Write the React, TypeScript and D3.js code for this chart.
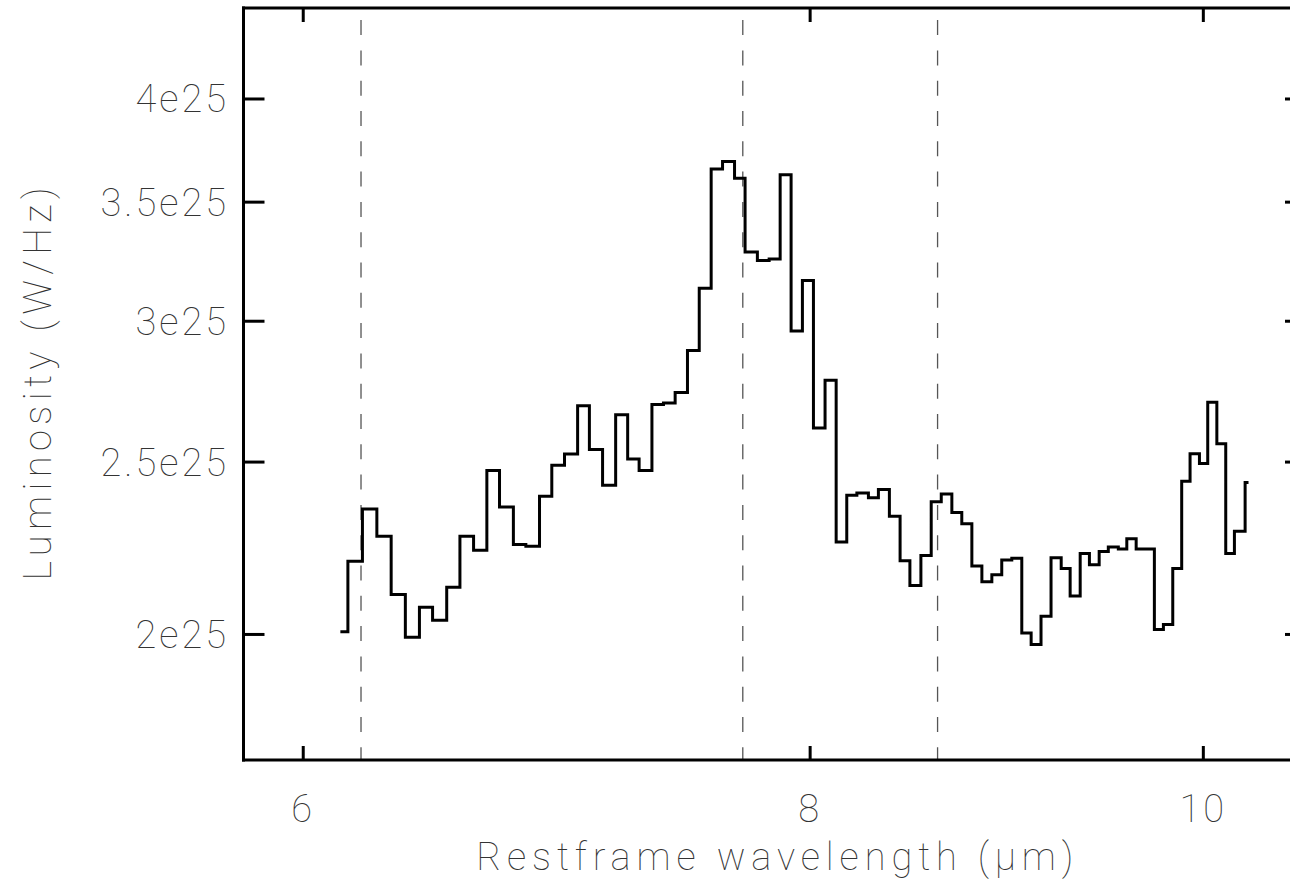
import React from "react";
import * as d3 from "d3";

// Bin edges (restframe wavelength, µm) where the histogram level changes; last entry closes the final bin
const binEdges = [
  6.133, 6.154, 6.205, 6.256, 6.307, 6.358, 6.409, 6.457, 6.509, 6.558,
  6.609, 6.659, 6.707, 6.76, 6.808, 6.861, 6.909, 6.959, 7.011, 7.058,
  7.111, 7.164, 7.213, 7.26, 7.313, 7.361, 7.41, 7.462, 7.512, 7.563,
  7.612, 7.664, 7.71, 7.764, 7.816, 7.865, 7.914, 7.965, 8.015, 8.068,
  8.119, 8.168, 8.215, 8.269, 8.316, 8.368, 8.419, 8.466, 8.519, 8.569,
  8.618, 8.67, 8.719, 8.769, 8.819, 8.869, 8.919, 8.97, 9.021, 9.069,
  9.12, 9.172, 9.225, 9.272, 9.325, 9.374, 9.426, 9.475, 9.529, 9.575,
  9.626, 9.676, 9.726, 9.776, 9.828, 9.878, 9.925, 9.978, 10.025, 10.077,
  10.128, 10.178, 10.24, 10.251,
];

// Luminosity in units of 1e25 W/Hz, one per bin
const luminosity = [
  2.007, 2.199, 2.353, 2.271, 2.106, 1.993, 2.072, 2.037, 2.126, 2.271,
  2.23, 2.473, 2.359, 2.247, 2.242, 2.392, 2.49, 2.526, 2.689, 2.541,
  2.426, 2.658, 2.51, 2.473, 2.693, 2.699, 2.736, 2.888, 3.131, 3.653,
  3.689, 3.61, 3.281, 3.245, 3.252, 3.626, 2.962, 3.162, 2.613, 2.779,
  2.254, 2.395, 2.402, 2.387, 2.413, 2.331, 2.2, 2.131, 2.215, 2.375,
  2.399, 2.342, 2.308, 2.185, 2.141, 2.161, 2.202, 2.207, 2.004, 1.974,
  2.048, 2.209, 2.178, 2.102, 2.221, 2.189, 2.227, 2.24, 2.234, 2.264,
  2.234, 2.234, 2.013, 2.026, 2.178, 2.439, 2.527, 2.495, 2.701, 2.56,
  2.221, 2.286, 2.435,
];

const featureLines = [6.2, 7.7, 8.6];
const featureTop = 4.43;

const xTicks = [6, 8, 10];
const xTickLabels = ["6", "8", "10"];
const yTicks = [2, 2.5, 3, 3.5, 4];
const yTickLabels = ["2e25", "2.5e25", "3e25", "3.5e25", "4e25"];

const xDomain: [number, number] = [5.8, 10.6];
const yDomain: [number, number] = [1.7, 4.5];

const xTitle = "Restframe wavelength (\u03BCm)";
const yTitle = "Luminosity (W/Hz)";

export default function App() {
  const W = 1290;
  const H = 891;
  const left = 243.5;
  const right = 1306;
  const top = 8;
  const bottom = 760;

  const x = d3.scaleLog().domain(xDomain).range([left, right]);
  const y = d3.scaleLog().domain(yDomain).range([bottom, top]);

  const pts: [number, number][] = binEdges.map((e, i) => [
    e,
    luminosity[Math.min(i, luminosity.length - 1)],
  ]);
  const line = d3
    .line<[number, number]>()
    .x((d) => x(d[0]))
    .y((d) => y(d[1]))
    .curve(d3.curveStepAfter);

  const font = "Roboto, 'DejaVu Sans', sans-serif";
  const textStyle: React.CSSProperties = {
    fontFamily: font,
    fontWeight: 100,
    fontSize: 38,
    fill: "#333",
  };

  return (
    <svg
      width={W}
      height={H}
      style={{ position: "absolute", left: 0, top: 0, display: "block", background: "#fff" }}
    >
      <rect x={0} y={0} width={W} height={H} fill="#fff" />
      {/* feature dashed lines */}
      {featureLines.map((f) => (
        <line
          key={f}
          x1={x(f)}
          x2={x(f)}
          y1={y(featureTop)}
          y2={bottom}
          stroke="#555"
          strokeWidth={1.3}
          strokeDasharray="15 15.3"
        />
      ))}
      {/* spectrum */}
      <path d={line(pts) || ""} fill="none" stroke="#000" strokeWidth={3} strokeLinejoin="miter" strokeLinecap="square" />
      {/* frame */}
      <g stroke="#000" strokeWidth={3} fill="none">
        <line x1={left} x2={left} y1={top - 1.5} y2={bottom + 1.5} />
        <line x1={right} x2={right} y1={top - 1.5} y2={bottom + 1.5} />
        <line x1={left - 1.5} x2={right + 1.5} y1={top} y2={top} />
        <line x1={left - 1.5} x2={right + 1.5} y1={bottom} y2={bottom} />
        {yTicks.map((t) => (
          <g key={"y" + t}>
            <line x1={left} x2={left + 21} y1={y(t)} y2={y(t)} />
            <line x1={right} x2={right - 21} y1={y(t)} y2={y(t)} />
          </g>
        ))}
        {xTicks.map((t) => (
          <g key={"x" + t}>
            <line x1={x(t)} x2={x(t)} y1={bottom} y2={bottom - 14} />
            <line x1={x(t)} x2={x(t)} y1={top} y2={top + 14} />
          </g>
        ))}
      </g>
      {/* tick labels */}
      {yTicks.map((t, i) => (
        <text key={"yl" + t} x={229} y={y(t) + 13.5} textAnchor="end" style={{ ...textStyle, letterSpacing: 3 }}>
          {yTickLabels[i]}
        </text>
      ))}
      {xTicks.map((t, i) => (
        <text key={"xl" + t} x={x(t)} y={822} textAnchor="middle" style={{ ...textStyle, letterSpacing: 3 }}>
          {xTickLabels[i]}
        </text>
      ))}
      {/* axis titles */}
      <text
        x={(left + right) / 2}
        y={870}
        textAnchor="middle"
        textLength={597}
        lengthAdjust="spacing"
        style={textStyle}
      >
        {xTitle}
      </text>
      <text
        transform={`translate(51, ${(top + bottom) / 2}) rotate(-90)`}
        textAnchor="middle"
        textLength={393}
        lengthAdjust="spacing"
        style={textStyle}
      >
        {yTitle}
      </text>
    </svg>
  );
}
